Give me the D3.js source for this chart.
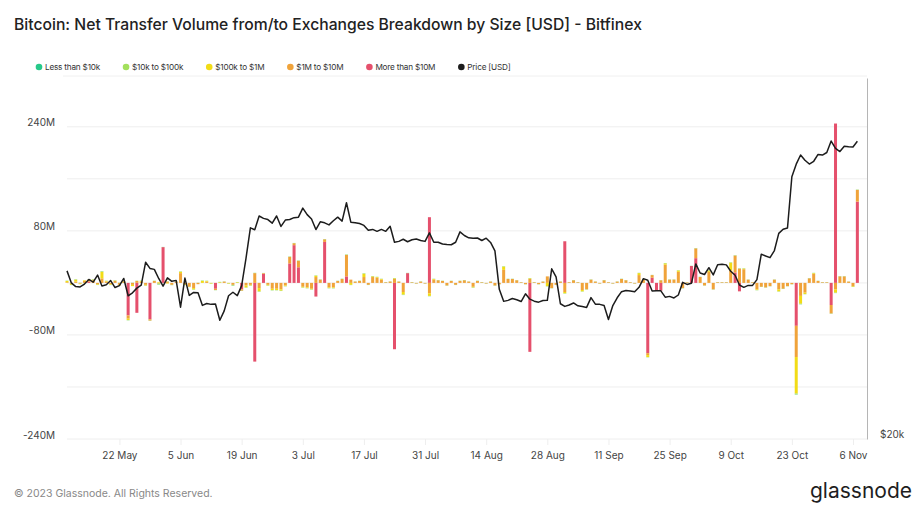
<!DOCTYPE html>
<html>
    <head>
        <title>Bitcoin: Net Transfer Volume from/to Exchanges - Bitfinex</title>
        <meta charset="utf-8" />
        <script src="https://d3js.org/d3.v7.min.js"></script>
        <style>
            body {
                margin: 0;
                background-color: white;
                font-family: Inter, 'Noto Sans', sans-serif;
            }
            svg {
                display: block;
            }
        </style>
    </head>
    <body>
        <svg></svg>
        <script>
            // daily values, 10 May 2023 .. 7 Nov 2023, net flow in million USD
            const startDate = '2023-05-10'

            const gt10m = [
                0, 0, 0, 0, 0, 2, 0, 0, 0, 0, 0, 0, 0, 0,
                -50, 0, -46, 0, 0, -56, 0, 0, 55, 0, 0, 0, 0, 0,
                0, 0, 0, 0, 0, 0, -9, 0, 0, 0, 0, 0, -10, 0,
                0, -121, 0, 14, 0, 0, 0, 0, 0, 30, 58, 24, 0, 0,
                0, -21, 0, 63, 0, 0, 0, 0, 10, 0, 0, 0, 0, 0,
                0, 0, 0, 0, 0, -102, 0, 0, 15, 0, 0, 0, 0, 101,
                0, 0, 0, 0, 0, 0, 0, 0, 0, 0, 0, 0, 0, 0,
                0, 0, 0, 0, 0, 0, 0, 0, -106, 0, 0, 0, 0, 0,
                0, 0, 64, 0, 0, 0, 0, 0, 0, 0, 0, 0, 0, 0,
                0, 0, 0, 0, 0, 0, 0, -108, 8, -12, -12, 0, 0, 0,
                0, 0, 0, 26, 38, 0, 0, 0, 0, 0, 0, 0, 0, 16,
                -13, 0, 0, 0, 0, 0, 0, 0, 0, 0, 0, 0, 0, -66,
                0, 0, 0, 0, 0, 0, 0, -34, 245, 0, 0, 0, 0, 125,
            ]

            const m1to10m = [
                1, -1, 2, -1, 3, 3, 4, -2, 7, 2, -2, 3, -3, 2,
                -5, -3, 3, 2, -3, -2, 3, -1, 0, 2, -3, 2, 15, -2,
                -6, -8, -2, 0, 2, 0, -2, 0, 2, 0, -3, 0, -2, -4,
                -3, 15, -8, 1, -3, -9, -9, -10, -4, 10, 3, 10, -6, -7,
                -9, 9, 5, 4, -7, -7, 3, 6, 33, 5, 2, 3, 9, -3,
                9, 8, 5, 1, 2, 6, 2, -14, 0, 1, -1, 2, -1, -16,
                5, 4, 3, -4, 3, -3, 3, 4, 2, -6, 3, 1, -1, 2,
                -4, -2, 20, 6, 6, 4, 1, -2, 6, 1, -2, 2, 10, -8,
                -3, 2, -14, 1, 4, 1, -11, -10, 5, 2, -1, 4, 1, -1,
                2, 6, 4, 1, -1, 12, 5, -3, 4, 0, 4, 28, 5, 5,
                17, -8, 1, 0, 15, 9, -4, 17, -10, 1, 1, 1, 19, 26,
                22, 21, 5, 1, -10, -6, -7, -5, 5, -10, -9, -5, -2, -48,
                -20, -15, 7, 14, 3, 1, 1, -13, -10, 10, 10, 2, -5, 18,
            ]

            const k100to1m = [
                2, -2, 3, -1, 1, 0, 1, -1, 10, 1, -1, 0.5, -1, 1,
                -2, -2, 0, 1, -1, 0, 0, 1, 0, -1, 0, 0, 2, -1,
                0, -2, 0, 3, 1, -1, 0, 1, 0, -1, 0, 1, 0, -3,
                -1, 0, -5, 0, -1, -2, -2, -2, -1, 0, 0, 0, -1, -1,
                -1, 2, 0, 0, -1, -1, 0, 0, 0, -3, 0, 0, 5, 0,
                1, 1, 1, 0, 0, 1, 0, -4, 0, 0, 0, 0, 0, -4,
                1, 0, 0, 0, 0, 0, 0, 0, 0, -1, 0, 0, 0, 0,
                0, 0, 5, 0, 0, 0, 0, 0, 1, 0, 0, 0, -5, 0,
                0, 0, -2, 0, 0, 0, -2, 0, 0, 0, 0, 0, 0, 0,
                0, 0, 0, 0, 0, 3, 0, -3, 0, 0, 0, 2, 0, 0,
                2, 0, 0, 0, 0, 0, 0, 2, 0, 0, 0, 0, 12, 0,
                0, 1, 0, 0, -1, 0, 0, 0, 0, -3, 0, 0, 0, -56,
                -12, -2, 0, 1, 0, 0, 0, 0, -5, 0, 0, 0, -1, 0,
            ]

            const k10to100k = [
                0.4, -0.3, 0.5, 0.2, -0.4, 0.3, 0.5, -0.2, 0.8, 0.3, -0.3, 0.4, 0.3, -0.2,
                -0.5, 0.2, 0.3, 0.4, -0.3, -0.2, 0.3, -1.5, 0.2, 0.3, -0.4, 0.2, 0.6, -0.3,
                -0.4, -0.5, 0.2, 0.6, 0.3, -0.3, -0.2, 0.5, 0.2, -0.3, -1.2, 0.3, -0.2, -0.4,
                -0.3, 0.4, -0.6, 0.2, -0.3, -0.5, -0.4, -0.4, -0.3, 0.5, 0.3, 0.4, -0.3, -0.3,
                -0.4, 0.5, 0.3, 0.3, -0.3, -0.4, 0.2, 0.4, 0.6, -0.3, 0.2, 0.3, 0.7, -0.2,
                0.4, 0.3, 0.3, 0.2, 0.3, 0.4, 0.2, -0.6, 0.3, 0.2, -0.2, 0.3, -0.2, -0.5,
                0.3, 0.3, 0.2, -0.3, 0.2, -0.2, 0.3, 0.3, 0.2, -0.4, 0.3, 0.2, -0.2, 0.2,
                -0.3, -0.2, 0.6, 0.3, 0.3, 0.2, 0.1, -0.2, 0.3, 0.2, -0.2, 0.2, -0.4, -0.3,
                -0.2, 0.2, -0.5, 0.1, 0.3, 0.2, -0.4, -0.3, 0.3, 0.2, -0.2, 0.3, 0.1, -0.2,
                0.2, 0.3, 0.3, 0.1, -0.2, 0.4, 0.3, -0.4, 0.2, -0.2, 0.2, 0.5, 0.3, 0.3,
                0.4, -0.3, 0.1, 0.2, 0.4, 0.3, -0.2, 0.4, -0.3, 0.1, 0.1, 0.1, 0.6, 0.5,
                0.4, 0.4, 0.2, 0.1, -0.3, -0.2, -0.3, -0.2, 0.2, -0.4, -0.3, -0.2, -0.2, -1.5,
                -0.8, -0.4, 0.3, 0.4, 0.2, 0.1, 0.1, -0.4, -0.6, 0.3, 0.3, 0.1, -0.2, 0.4,
            ]

            const lt10k = [
                0.1, -0.1, 0.1, 0.1, -0.1, 0.1, 0.1, -0.1, 0.2, 0.1, -0.1, 0.1, 0.1, -0.1,
                -0.1, 0.1, 0.1, 0.1, -0.1, -0.1, 0.1, -0.3, 0.1, 0.1, -0.1, 0.1, 0.1, -0.1,
                -0.1, -0.1, 0.1, 0.1, 0.1, -0.1, -0.1, 0.1, 0.1, -0.1, -0.2, 0.1, -0.1, -0.1,
                -0.1, 0.1, -0.1, 0.1, -0.1, -0.1, -0.1, -0.1, -0.1, 0.1, 0.1, 0.1, -0.1, -0.1,
                -0.1, 0.1, 0.1, 0.1, -0.1, -0.1, 0.1, 0.1, 0.1, -0.1, 0.1, 0.1, 0.1, -0.1,
                0.1, 0.1, 0.1, 0.1, 0.1, 0.1, 0.1, -0.1, 0.1, 0.1, -0.1, 0.1, -0.1, -0.1,
                0.1, 0.1, 0.1, -0.1, 0.1, -0.1, 0.1, 0.1, 0.1, -0.1, 0.1, 0.1, -0.1, 0.1,
                -0.1, -0.1, 0.1, 0.1, 0.1, 0.1, 0.1, -0.1, 0.1, 0.1, -0.1, 0.1, -0.1, -0.1,
                -0.1, 0.1, -0.1, 0.1, 0.1, 0.1, -0.1, -0.1, 0.1, 0.1, -0.1, 0.1, 0.1, -0.1,
                0.1, 0.1, 0.1, 0.1, -0.1, 0.1, 0.1, -0.1, 0.1, -0.1, 0.1, 0.1, 0.1, 0.1,
                0.1, -0.1, 0.1, 0.1, 0.1, 0.1, -0.1, 0.1, -0.1, 0.1, 0.1, 0.1, 0.1, 0.1,
                0.1, 0.1, 0.1, 0.1, -0.1, -0.1, -0.1, -0.1, 0.1, -0.1, -0.1, -0.1, -0.1, -0.3,
                -0.2, -0.1, 0.1, 0.1, 0.1, 0.1, 0.1, -0.1, -0.1, 0.1, 0.1, 0.1, -0.1, 0.1,
            ]

            // BTC price, USD
            const price = [
                27620, 26990, 26800, 26780, 26930, 27170, 27030,
                27400, 26830, 26890, 27110, 26750, 26850, 27220,
                26330, 26480, 26720, 26870, 28080, 27750, 27700,
                27220, 26820, 27250, 27070, 27120, 25760, 27240,
                26350, 26500, 26480, 25850, 25940, 25900, 25920,
                25120, 25580, 26330, 26510, 26340, 26850, 28310,
                30000, 29890, 30690, 30550, 30480, 30270, 30690,
                30080, 30450, 30480, 30590, 30620, 31160, 30770,
                30510, 29900, 30350, 30290, 30170, 30410, 30620,
                30390, 31480, 30330, 30300, 30250, 30140, 29860,
                29910, 29800, 29910, 29800, 30090, 29180, 29230,
                29350, 29210, 29320, 29360, 29280, 29230, 29710,
                29180, 29180, 29080, 29050, 29040, 29180, 29770,
                29560, 29430, 29400, 29420, 29280, 29410, 29170,
                28700, 26660, 26050, 26100, 26190, 26130, 26040,
                26430, 26160, 26060, 26010, 26090, 26100, 27730,
                27300, 25930, 25800, 25870, 25970, 25830, 25790,
                25750, 26240, 25910, 25900, 25840, 25160, 25840,
                26230, 26540, 26600, 26570, 26530, 26760, 27210,
                27130, 26570, 26580, 26580, 26260, 26300, 26220,
                26370, 27020, 26910, 26970, 27990, 27510, 27430,
                27790, 27410, 27950, 27970, 27940, 27600, 27390,
                26880, 26760, 26860, 26860, 27160, 28520, 28420,
                28330, 28720, 29680, 29920, 29990, 33090, 33900,
                34500, 34160, 33910, 34090, 34540, 34500, 34670,
                35440, 34940, 34730, 35080, 35050, 35040, 35430,
            ]

            const seriesKeys = ['gt10m', 'm1to10m', 'k100to1m', 'k10to100k', 'lt10k']
            const legendLabels = [
                'Less than $10k',
                '$10k to $100k',
                '$100k to $1M',
                '$1M to $10M',
                'More than $10M',
                'Price [USD]',
            ]
            const yGridTicks = [-240, -160, -80, 0, 80, 160, 240]
            const yLabelTicks = [-240, -80, 80, 240]
            const xTicks = [
                '2023-05-22', '2023-06-05', '2023-06-19', '2023-07-03',
                '2023-07-17', '2023-07-31', '2023-08-14', '2023-08-28',
                '2023-09-11', '2023-09-25', '2023-10-09', '2023-10-23',
                '2023-11-06',
            ]
            const priceTicks = [20000]

            const colors = {
                lt10k: '#27c98a',
                k10to100k: '#a3e05c',
                k100to1m: '#f2dc16',
                m1to10m: '#f0a33a',
                gt10m: '#e5506c',
                price: '#1c1c1c',
            }
            const legendColors = [
                colors.lt10k,
                colors.k10to100k,
                colors.k100to1m,
                colors.m1to10m,
                colors.gt10m,
                colors.price,
            ]

            const width = 923
            const height = 511
            const plot = { left: 67, right: 867, top: 78, bottom: 439 }

            const svg = d3
                .select('svg')
                .attr('width', width)
                .attr('height', height)
                .attr('viewBox', [0, 0, width, height])

            const parseDay = d3.utcParse('%Y-%m-%d')
            const day0 = parseDay(startDate)
            const dates = d3.utcDay.range(day0, d3.utcDay.offset(day0, price.length))

            const rows = dates.map((date, i) => ({
                date,
                gt10m: gt10m[i],
                m1to10m: m1to10m[i],
                k100to1m: k100to1m[i],
                k10to100k: k10to100k[i],
                lt10k: lt10k[i],
                price: price[i],
            }))

            const xScale = d3
                .scaleUtc()
                .domain([day0, d3.utcHour.offset(parseDay('2023-11-09'), 5)])
                .range([plot.left, plot.right])

            const yScale = d3
                .scaleLinear()
                .domain([-240, 315])
                .range([plot.bottom, plot.top])

            const priceScale = d3
                .scaleLog()
                .domain([20000, 40000])
                .range([plot.bottom, plot.top])

            // title
            svg.append('text')
                .attr('x', 14)
                .attr('y', 30)
                .style('font-size', '15.7px')
                .style('font-weight', 500)
                .style('fill', '#222')
                .text('Bitcoin: Net Transfer Volume from/to Exchanges Breakdown by Size [USD] - Bitfinex')

            // legend
            const legend = svg.append('g').attr('transform', 'translate(39, 67)')
            let lx = 0
            legendLabels.forEach((label, i) => {
                const item = legend.append('g').attr('transform', `translate(${lx}, 0)`)
                item.append('circle')
                    .attr('r', 3.3)
                    .style('fill', legendColors[i])
                const t = item.append('text')
                    .attr('x', 6)
                    .attr('dy', '0.35em')
                    .style('font-size', '8.2px')
                    .style('letter-spacing', '-0.2px')
                    .style('fill', '#333')
                    .text(label)
                lx += 6 + t.node().getComputedTextLength() + 26
            })

            svg.append('line')
                .attr('x1', 63)
                .attr('x2', plot.right)
                .attr('y1', 76)
                .attr('y2', 76)
                .style('stroke', '#f0f0f0')

            // grid
            yGridTicks.forEach((t) => {
                svg.append('line')
                    .attr('x1', plot.left)
                    .attr('x2', plot.right)
                    .attr('y1', yScale(t))
                    .attr('y2', yScale(t))
                    .style('stroke', '#eeeeee')
                    .style('stroke-width', '1px')
            })

            // left axis
            const yAxis = svg
                .append('g')
                .attr('transform', `translate(${plot.left}, 0)`)
                .call(
                    d3.axisLeft(yScale)
                        .tickValues(yLabelTicks)
                        .tickSize(0)
                        .tickPadding(12)
                        .tickFormat((d) => d + 'M')
                )
            yAxis.select('.domain').remove()
            yAxis.selectAll('text')
                .attr('dy', '-0.1em')
                .style('font-family', 'Inter, sans-serif')
                .style('font-size', '10px')
                .style('fill', '#444')

            // bottom axis
            const xAxis = svg
                .append('g')
                .attr('transform', `translate(0, ${plot.bottom})`)
                .call(
                    d3.axisBottom(xScale)
                        .tickValues(xTicks.map(parseDay))
                        .tickSize(6)
                        .tickPadding(7)
                        .tickFormat(d3.utcFormat('%-d %b'))
                )
            xAxis.select('.domain').remove()
            xAxis.selectAll('line').style('stroke', '#eeeeee')
            xAxis.selectAll('text')
                .style('font-family', 'Inter, sans-serif')
                .style('font-size', '10px')
                .style('fill', '#444')

            // right price axis
            const pAxis = svg
                .append('g')
                .attr('transform', `translate(${plot.right}, 0)`)
                .call(
                    d3.axisRight(priceScale)
                        .tickValues(priceTicks)
                        .tickSize(0)
                        .tickSizeOuter(0)
                        .tickPadding(13)
                        .tickFormat((d) => '$' + d / 1000 + 'k')
                )
            pAxis.select('.domain').style('stroke', '#b5b5b5')
            pAxis.selectAll('text')
                .attr('dy', '-0.15em')
                .style('font-family', 'Inter, sans-serif')
                .style('font-size', '10px')
                .style('fill', '#444')

            // stacked bars
            const stacked = d3
                .stack()
                .keys(seriesKeys)
                .offset(d3.stackOffsetDiverging)(rows)

            const barWidth = 3
            svg.append('g')
                .selectAll('g')
                .data(stacked)
                .enter()
                .append('g')
                .style('fill', (s) => colors[s.key])
                .selectAll('rect')
                .data((s) => s)
                .enter()
                .append('rect')
                .attr('x', (d) => xScale(d.data.date) - barWidth / 2)
                .attr('y', (d) => yScale(Math.max(d[0], d[1])))
                .attr('width', barWidth)
                .attr('height', (d) => Math.abs(yScale(d[0]) - yScale(d[1])))

            // price line
            const priceLine = d3
                .line()
                .x((d) => xScale(d.date))
                .y((d) => priceScale(d.price))

            svg.append('path')
                .datum(rows)
                .attr('d', priceLine)
                .style('fill', 'none')
                .style('stroke', colors.price)
                .style('stroke-width', 1.5)
                .style('stroke-linejoin', 'round')

            // footer
            svg.append('text')
                .attr('x', 14)
                .attr('y', 497)
                .style('font-size', '10.5px')
                .style('fill', '#888')
                .text('© 2023 Glassnode. All Rights Reserved.')

            svg.append('text')
                .attr('x', 912)
                .attr('y', 498)
                .attr('text-anchor', 'end')
                .style('font-size', '21px')
                .style('fill', '#1e1e1e')
                .text('glassnode')
        </script>
    </body>
</html>
